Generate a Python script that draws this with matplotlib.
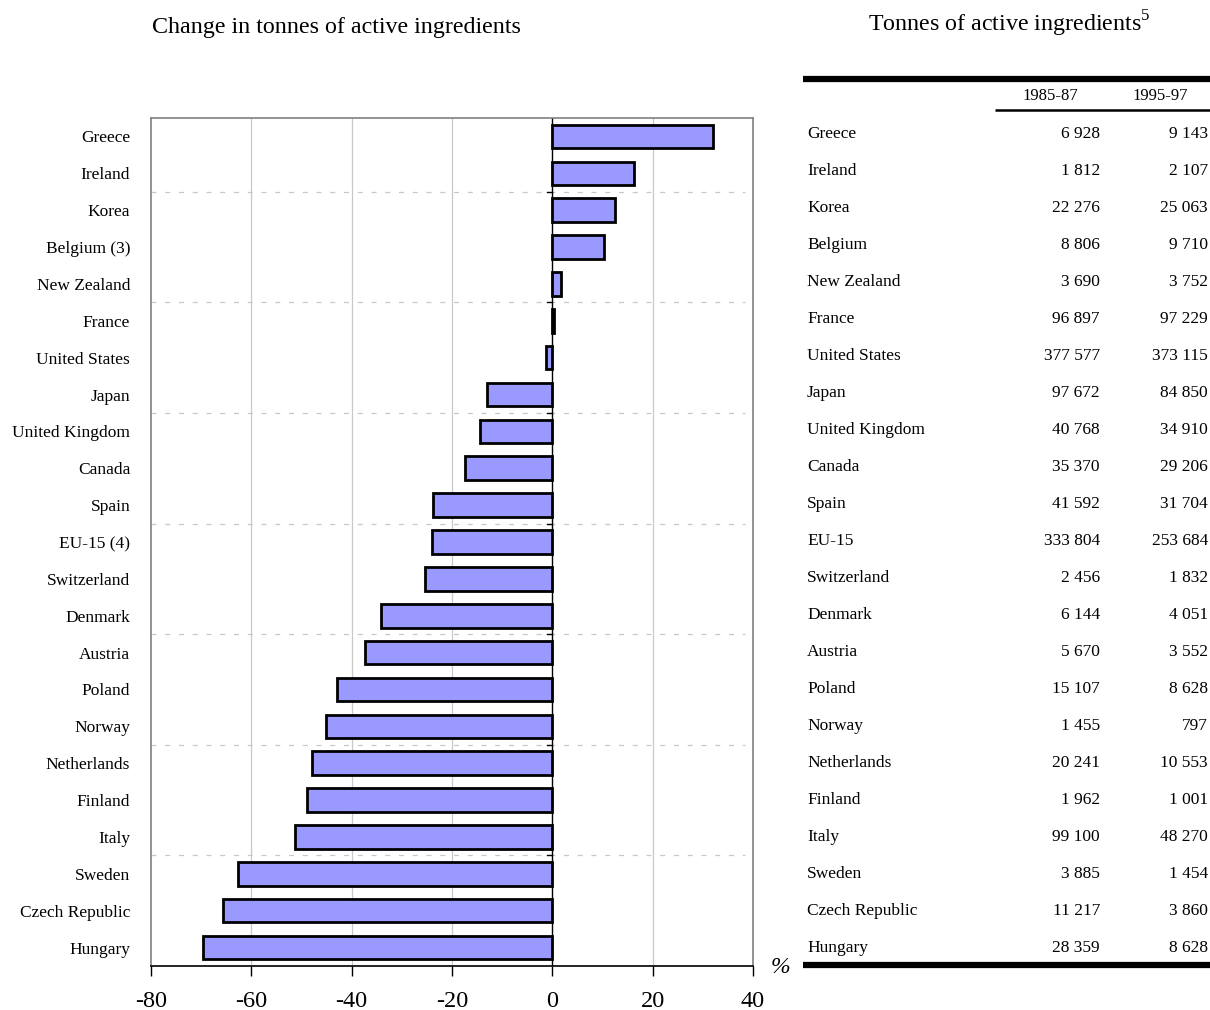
import matplotlib
matplotlib.use('Agg')
import matplotlib.pyplot as plt

plt.rcParams['font.family'] = ['Liberation Serif', 'DejaVu Serif']
plt.rcParams['mathtext.fontset'] = 'custom'
plt.rcParams['mathtext.rm'] = 'Liberation Serif'

countries = ['Greece', 'Ireland', 'Korea', 'Belgium (3)', 'New Zealand', 'France',
             'United States', 'Japan', 'United Kingdom', 'Canada', 'Spain', 'EU-15 (4)',
             'Switzerland', 'Denmark', 'Austria', 'Poland', 'Norway', 'Netherlands',
             'Finland', 'Italy', 'Sweden', 'Czech Republic', 'Hungary']
table_names = ['Greece', 'Ireland', 'Korea', 'Belgium', 'New Zealand', 'France',
               'United States', 'Japan', 'United Kingdom', 'Canada', 'Spain', 'EU-15',
               'Switzerland', 'Denmark', 'Austria', 'Poland', 'Norway', 'Netherlands',
               'Finland', 'Italy', 'Sweden', 'Czech Republic', 'Hungary']
change_pct = [32.0, 16.3, 12.5, 10.3, 1.7, 0.3, -1.2, -13.1, -14.4, -17.4, -23.8, -24.0,
              -25.4, -34.1, -37.4, -42.9, -45.2, -47.9, -49.0, -51.3, -62.6, -65.6, -69.6]
t_1985 = ['6 928', '1 812', '22 276', '8 806', '3 690', '96 897', '377 577', '97 672',
          '40 768', '35 370', '41 592', '333 804', '2 456', '6 144', '5 670', '15 107',
          '1 455', '20 241', '1 962', '99 100', '3 885', '11 217', '28 359']
t_1995 = ['9 143', '2 107', '25 063', '9 710', '3 752', '97 229', '373 115', '84 850',
          '34 910', '29 206', '31 704', '253 684', '1 832', '4 051', '3 552', '8 628',
          '797', '10 553', '1 001', '48 270', '1 454', '3 860', '8 628']
x_ticks = [-80, -60, -40, -20, 0, 20, 40]

W, H = 1210, 1010
fig = plt.figure(figsize=(W / 100, H / 100), dpi=100)

# --- bar chart ---
ax = fig.add_axes([151 / W, 44 / H, 602 / W, 848 / H])
n = len(countries)
ypos = list(range(n))
for x in [-60, -40, -20, 20]:
    ax.axvline(x, color='#c8c8c8', linewidth=0.9, zorder=0)
# dashed separators every 3 categories, with small ticks on the zero axis
for b in range(1, n - 1, 3):
    ax.plot([-80, 38.5], [b + 0.5, b + 0.5], color='#c8c8c8', linewidth=0.9,
            linestyle=(0, (4, 7)), zorder=0)
    ax.plot([-1.0, 0], [b + 0.5, b + 0.5], color='black', linewidth=1.0, zorder=1)
ax.axvline(0, color='black', linewidth=1.0, zorder=1)
ax.barh(ypos, change_pct, height=0.64, color='#9999ff', edgecolor='black',
        linewidth=2.0, zorder=2)

ax.set_xlim(-80, 40)
ax.set_ylim(n - 0.5, -0.5)
ax.set_xticks(x_ticks)
ax.set_xticklabels([str(v) for v in x_ticks], fontsize=17.5)
ax.tick_params(axis='x', direction='out', length=7, width=1, pad=11)
ax.set_yticks(ypos)
ax.set_yticklabels(countries, fontsize=12.5)
ax.tick_params(axis='y', length=0, pad=15)
for s in ['left', 'top', 'right']:
    ax.spines[s].set_color('#808080')
    ax.spines[s].set_linewidth(1.2)
ax.spines['bottom'].set_color('black')
ax.spines['bottom'].set_linewidth(1.2)
ax.text(1.03, -0.002, '%', transform=ax.transAxes, fontsize=17, style='italic',
        ha='left', va='center')
fig.text(152 / W, 1 - 28 / H, 'Change in tonnes of active ingredients', fontsize=17.3,
         ha='left', va='center')

# --- table ---
axt = fig.add_axes([803 / W, 0, (W - 803) / W, 1])
axt.set_xlim(0, W - 803)
axt.set_ylim(H, 0)
axt.axis('off')
axt.plot([0, W - 803], [79, 79], color='black', linewidth=4.5, solid_capstyle='butt')
axt.plot([192, W - 803], [110, 110], color='black', linewidth=1.8, solid_capstyle='butt')
axt.plot([0, W - 803], [965, 965], color='black', linewidth=4.5, solid_capstyle='butt')
axt.text(1050 - 803, 96, '1985-87', fontsize=12, ha='center', va='center')
axt.text(1160 - 803, 96, '1995-97', fontsize=12, ha='center', va='center')
for i in range(n):
    y = 134 + 37 * i
    axt.text(4, y, table_names[i], fontsize=12.5, ha='left', va='center')
    axt.text(1100 - 803, y, t_1985[i], fontsize=12.5, ha='right', va='center')
    axt.text(1208 - 803, y, t_1995[i], fontsize=12.5, ha='right', va='center')
fig.text(868 / W, 1 - 24 / H, r'Tonnes of active ingredients$^{5}$', fontsize=17.3,
         ha='left', va='center')

fig.savefig('out.png', dpi=100)
